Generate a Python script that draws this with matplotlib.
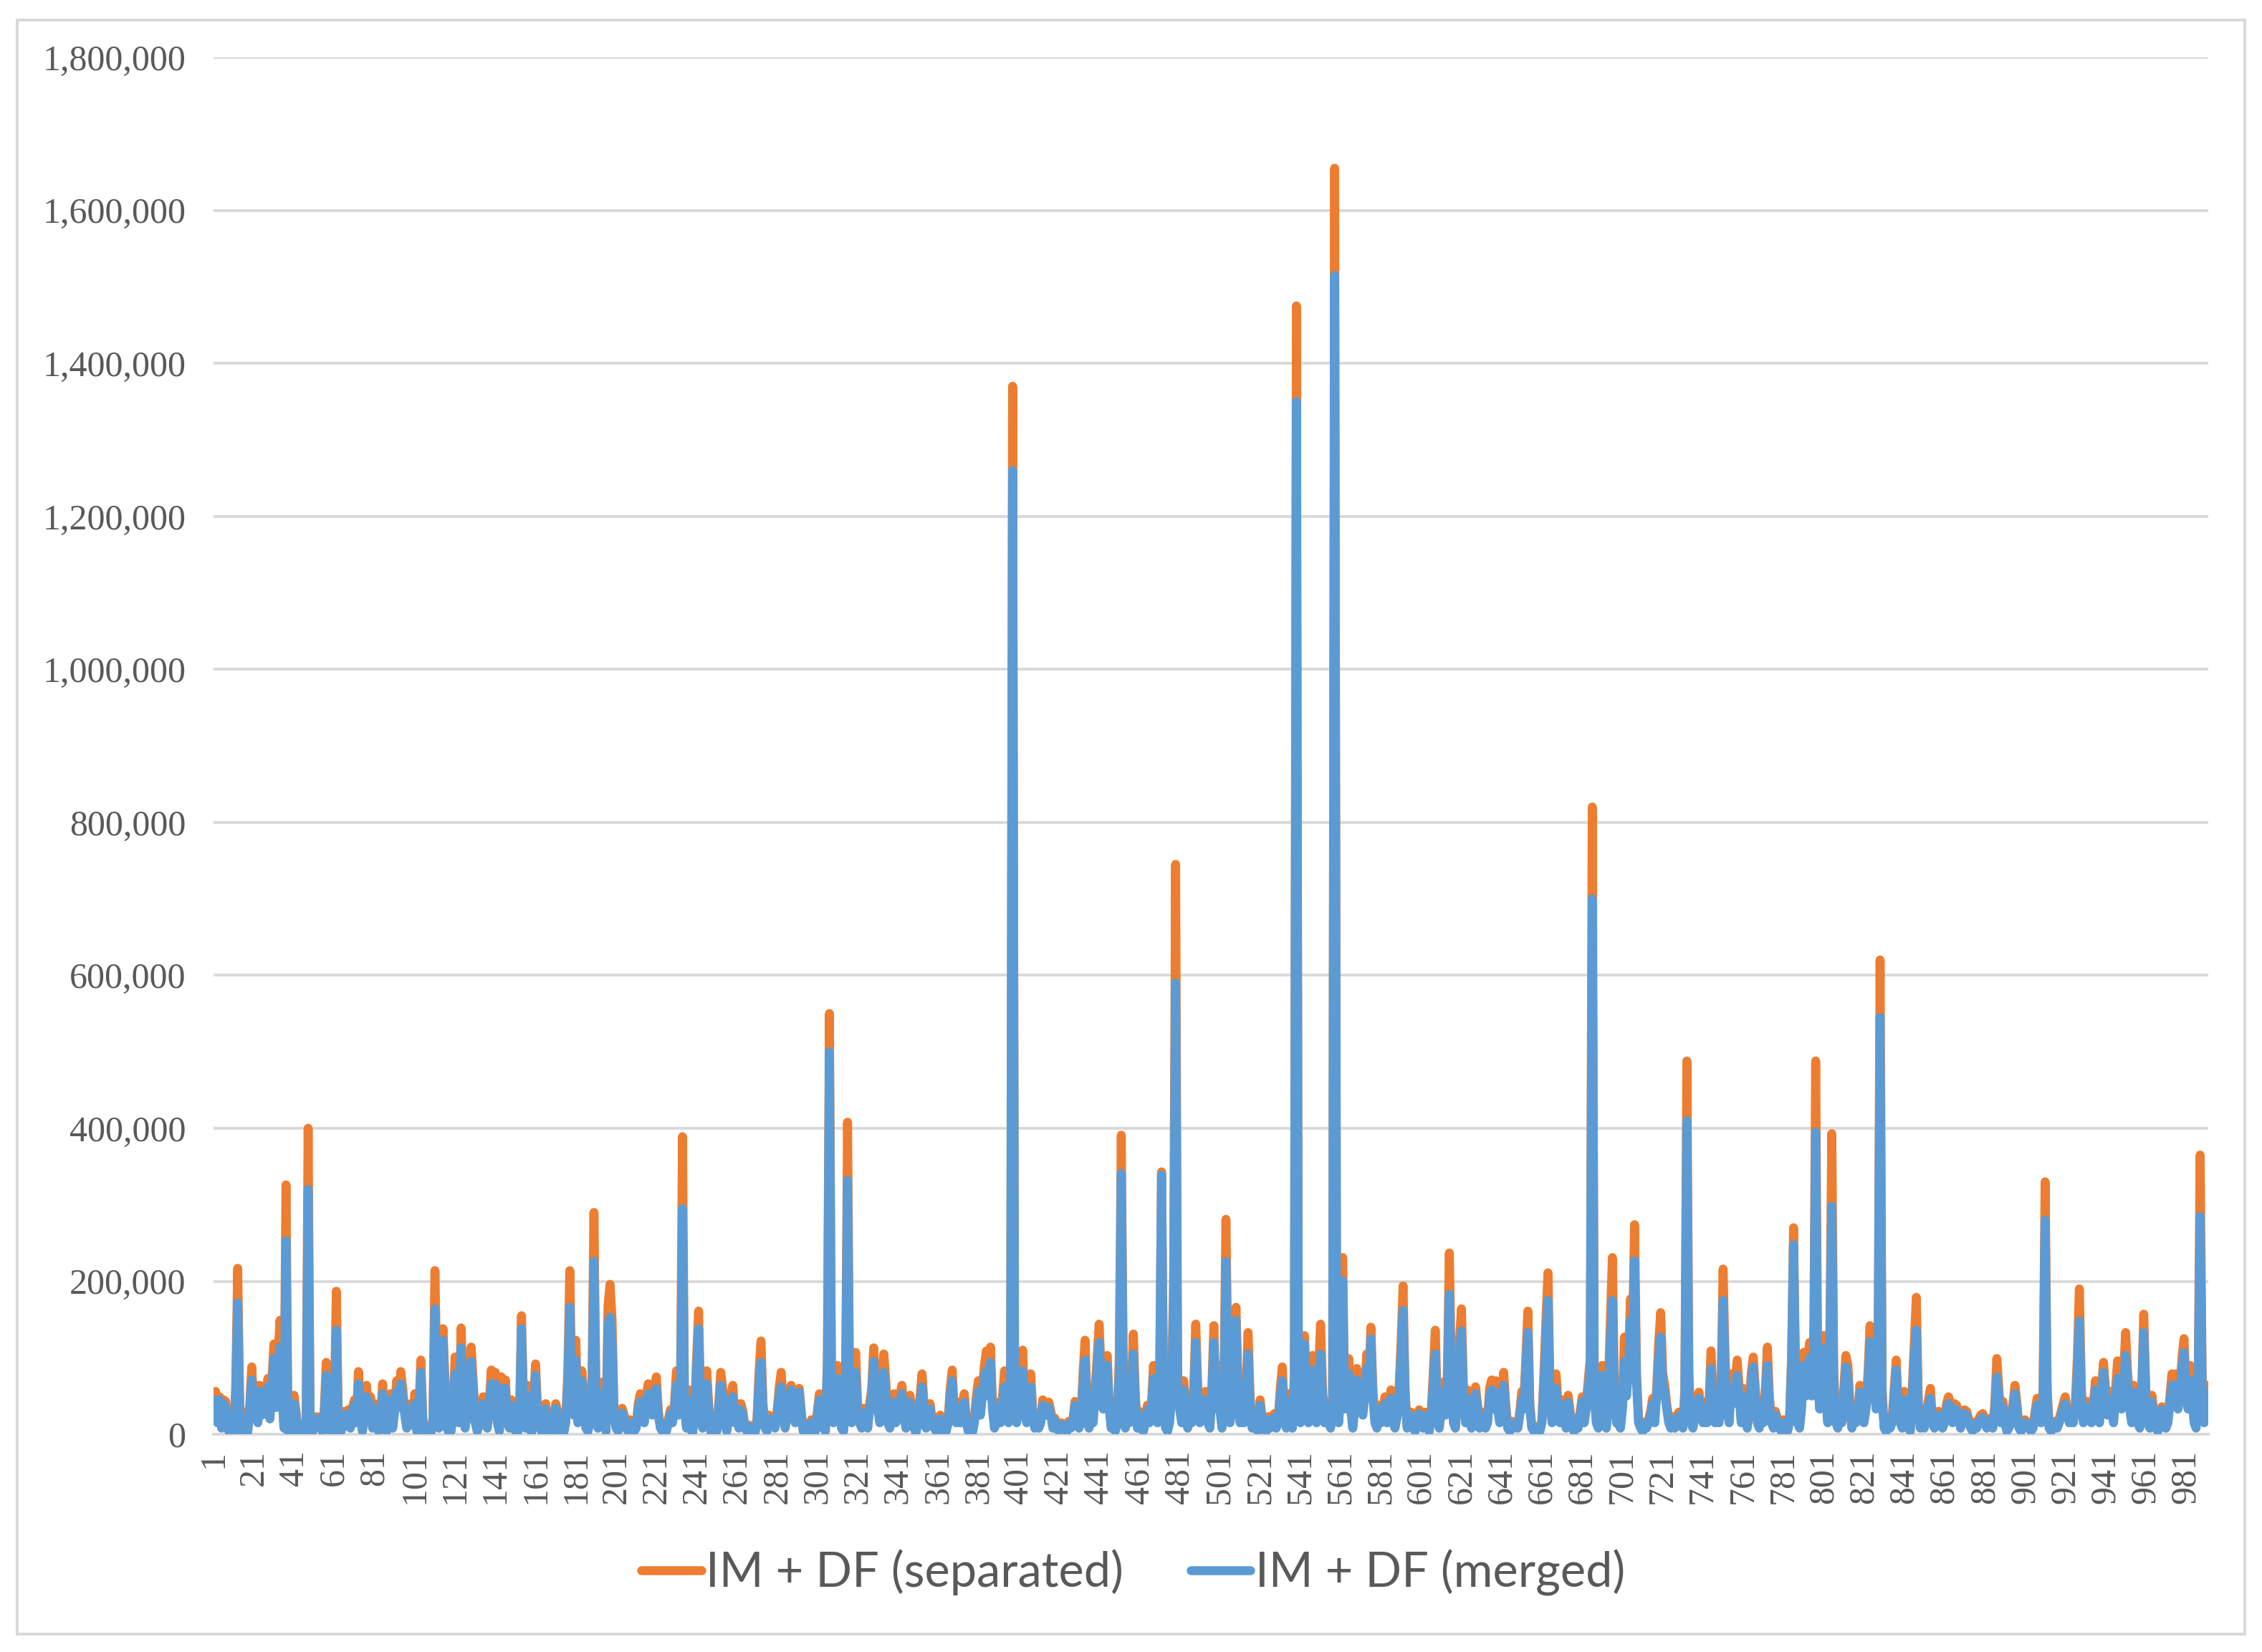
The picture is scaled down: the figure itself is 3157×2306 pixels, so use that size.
import matplotlib
matplotlib.use("Agg")
import matplotlib.pyplot as plt
from matplotlib.patches import Rectangle
from matplotlib.ticker import FuncFormatter
import numpy as np

# values, in thousands, one row per 20 points
sep_k = [
    30,56,20,49,10,45,43,10,2,5,3,60,217,40,5,8,29,4,40,88,
    30,64,20,64,30,60,35,73,25,70,118,40,100,149,60,10,326,5,0,20,
    51,30,5,2,0,3,10,400,15,3,10,23,15,23,5,30,94,40,5,2,
    30,187,20,3,10,30,20,32,10,35,45,20,82,25,5,40,64,30,49,10,
    40,25,5,20,66,30,5,25,53,10,35,70,40,82,60,30,10,20,40,15,
    53,5,30,97,20,3,0,10,3,20,214,60,10,90,138,70,10,3,5,30,
    101,40,20,139,60,10,79,25,114,70,20,5,15,30,49,20,10,40,84,30,
    81,20,5,75,40,71,20,10,45,20,5,3,20,155,40,10,64,20,3,40,
    92,30,10,5,20,40,10,3,5,20,40,30,3,5,3,20,80,214,60,30,
    123,20,40,83,50,10,5,20,60,290,50,10,30,68,20,5,168,196,150,30,
    10,5,20,34,25,10,5,19,15,5,10,40,53,45,20,50,66,40,30,60,
    75,30,10,5,12,5,20,32,20,40,83,30,60,389,40,10,58,10,3,30,
    100,161,40,10,30,83,40,5,10,21,5,40,81,60,20,5,30,50,64,20,
    40,10,40,30,10,5,12,10,5,3,20,80,122,40,10,5,25,20,22,10,
    30,60,81,40,10,30,55,64,40,20,55,60,30,5,10,14,5,19,10,5,
    30,53,40,10,5,100,550,80,20,40,90,40,10,5,60,408,60,20,40,107,
    40,20,10,34,30,10,40,60,113,60,40,20,60,105,70,20,10,40,53,20,
    30,50,64,30,10,40,51,30,10,3,20,50,79,40,10,30,40,20,10,5,
    20,25,10,3,5,20,60,84,30,20,42,20,40,53,20,5,8,3,20,50,
    70,30,60,90,109,60,114,40,10,20,42,20,50,83,40,20,60,1370,60,20,
    40,80,110,40,20,60,79,30,10,27,10,20,45,40,30,42,30,10,21,10,
    5,15,14,8,5,17,10,20,43,30,10,20,80,123,40,10,43,20,60,100,
    144,80,40,90,103,40,10,19,5,20,100,391,80,10,30,20,60,131,50,10,
    30,10,5,20,38,20,40,90,60,20,60,343,60,10,5,20,60,200,745,80,
    40,20,70,40,10,45,20,60,144,60,20,55,30,56,20,10,60,142,40,90,
    40,10,60,281,80,20,40,100,166,60,20,49,20,60,133,50,10,27,10,5,
    45,20,10,5,23,10,15,27,10,20,60,88,30,10,53,30,10,80,1475,40,
    20,60,129,60,20,60,103,40,20,80,144,60,20,42,20,10,30,1655,80,20,
    60,231,40,60,99,40,10,40,86,50,71,30,60,105,60,140,60,20,10,38,
    20,30,49,20,40,58,20,10,27,60,120,194,60,10,20,29,10,5,20,32,
    20,10,29,20,5,30,80,136,40,10,40,68,30,80,237,80,20,10,60,120,
    164,60,20,58,30,10,30,62,40,10,20,29,10,20,60,71,40,70,40,20,
    50,81,40,10,5,17,10,16,10,30,56,40,100,161,40,10,5,3,10,5,
    20,80,150,211,60,20,50,79,40,20,45,30,10,51,30,10,5,21,10,30,
    49,20,40,70,100,820,60,20,10,50,90,40,10,60,150,231,60,20,16,10,
    40,127,60,100,177,120,274,80,20,10,5,16,10,20,30,47,20,60,120,159,
    80,64,40,20,10,23,10,20,29,20,10,60,488,80,20,10,30,40,55,30,
    20,42,20,40,109,50,20,32,20,60,216,100,40,20,79,50,70,97,60,20,
    60,40,10,40,80,101,60,20,10,40,20,60,114,50,20,10,30,20,10,5,
    19,10,5,20,100,270,80,20,10,40,107,60,100,120,60,100,488,80,40,100,
    129,60,20,120,393,80,20,10,40,20,60,103,90,40,10,29,20,30,64,30,
    20,40,80,142,60,79,40,100,620,60,10,5,17,10,20,60,97,40,20,10,
    56,40,10,5,60,120,179,40,10,17,10,30,45,60,20,10,20,30,20,10,
    20,40,49,40,20,40,38,30,10,30,32,30,20,10,5,16,10,20,25,27,
    20,10,15,21,10,40,99,60,20,43,20,5,10,20,40,64,40,10,5,10,
    19,15,10,5,10,30,47,30,20,60,330,60,10,5,10,17,10,20,30,40,
    49,30,20,32,20,40,100,190,60,20,30,43,30,20,40,70,40,20,60,94,
    60,30,56,40,20,60,96,60,40,80,133,80,40,20,64,40,20,10,60,157,
    60,20,10,51,30,10,5,20,36,20,10,20,50,79,60,79,40,60,100,125,
    60,40,90,60,20,10,60,365,80,20,40,64,
]

mrg_k = [
    25,45,15,45,8,40,34,8,2,4,2,50,172,30,4,6,22,3,33,71,
    25,56,15,56,25,52,30,62,20,60,99,35,85,114,50,8,253,4,0,15,
    40,25,4,2,0,2,8,320,12,2,8,20,12,20,4,25,77,32,4,2,
    25,136,15,2,8,25,15,27,8,30,38,15,66,20,4,32,49,25,40,8,
    33,20,4,15,53,25,4,20,45,8,30,56,35,66,50,25,8,15,33,12,
    40,4,25,81,15,2,0,8,2,15,164,50,8,80,123,60,8,2,4,25,
    79,35,15,113,50,8,60,20,95,60,15,4,12,25,40,15,8,33,66,25,
    66,15,4,60,33,60,15,8,38,15,4,2,15,138,33,8,50,15,2,33,
    77,25,8,4,15,33,8,2,4,15,34,25,2,4,2,15,65,166,50,25,
    97,15,33,70,40,8,4,15,45,226,40,8,25,53,15,4,142,153,120,25,
    8,4,15,28,20,8,4,15,12,4,8,33,43,38,15,42,53,33,25,50,
    60,25,8,4,10,4,15,27,15,33,64,25,45,295,33,8,45,8,2,25,
    85,138,33,8,25,66,33,4,8,18,4,33,64,50,15,4,25,40,49,15,
    33,8,32,25,8,4,10,8,4,2,15,65,94,33,8,4,20,15,18,8,
    25,50,62,33,8,25,45,58,33,15,45,55,25,4,8,12,4,15,8,4,
    25,45,35,8,4,90,500,70,15,33,73,33,8,4,50,332,50,15,35,81,
    33,15,8,28,25,8,33,50,95,50,33,15,50,81,55,15,8,33,42,15,
    25,40,53,25,8,33,42,25,8,2,15,42,62,33,8,25,33,15,8,4,
    15,20,8,2,4,15,50,70,25,15,35,15,33,42,15,4,6,2,15,40,
    56,25,50,75,83,50,94,33,8,15,35,15,40,62,33,15,50,1260,50,15,
    33,65,83,33,15,50,62,25,8,22,8,15,38,33,25,35,25,8,18,8,
    4,12,12,6,4,14,8,15,38,25,8,15,65,97,33,8,36,15,50,85,
    120,70,33,75,90,33,8,15,4,15,80,341,65,8,25,15,50,105,40,8,
    25,8,4,15,32,15,33,73,50,15,50,339,50,8,4,15,50,170,590,65,
    33,15,58,33,8,38,15,50,120,50,15,45,25,45,15,8,50,120,33,73,
    33,8,50,226,65,15,33,85,149,50,15,40,15,50,105,40,8,22,8,4,
    38,15,8,4,19,8,12,22,8,15,50,70,25,8,43,25,8,70,1350,33,
    15,50,118,50,15,50,84,33,15,65,105,50,15,35,15,8,25,1515,70,15,
    50,201,33,50,79,33,8,33,71,40,60,25,50,86,50,125,50,15,8,32,
    15,25,40,15,33,47,15,8,22,50,100,162,50,8,15,24,8,4,15,27,
    15,8,24,15,4,25,65,105,33,8,33,55,25,65,183,65,15,8,50,100,
    135,50,15,47,25,8,25,53,33,8,15,24,8,15,50,58,33,55,33,15,
    40,64,33,8,4,14,8,13,8,25,45,33,85,133,33,8,4,2,8,4,
    15,65,125,175,50,15,40,60,33,15,38,25,8,42,25,8,4,18,8,25,
    43,15,33,60,85,700,50,15,8,40,77,33,8,50,120,175,50,15,13,8,
    33,95,50,85,149,100,227,65,15,8,4,13,8,15,25,40,15,50,100,127,
    65,55,33,15,8,19,8,15,24,15,8,50,410,65,15,8,25,33,47,25,
    15,35,15,33,86,40,15,27,15,50,175,85,33,15,60,40,60,77,50,15,
    49,33,8,33,65,88,50,15,8,33,15,50,90,40,15,8,25,15,8,4,
    15,8,4,15,90,248,70,15,8,33,90,50,85,100,50,85,395,65,33,85,
    112,50,15,100,298,65,15,8,33,15,50,88,75,33,8,24,15,25,55,25,
    15,33,65,121,50,65,33,85,545,50,8,4,14,8,15,50,84,33,15,8,
    45,33,8,4,50,100,136,33,8,14,8,25,38,47,15,8,15,25,15,8,
    15,33,40,33,15,33,32,25,8,25,27,25,15,8,4,13,8,15,20,22,
    15,8,12,18,8,33,75,50,15,36,15,4,8,15,33,53,33,8,4,8,
    15,12,8,4,8,25,38,25,15,50,280,50,8,4,8,14,8,15,25,33,
    40,25,15,27,15,33,80,148,50,15,25,36,25,15,33,58,33,15,50,81,
    50,25,45,33,15,50,73,50,33,65,103,65,33,15,55,33,15,8,50,133,
    50,15,8,42,25,8,4,15,32,15,8,15,40,64,50,65,33,50,85,107,
    50,33,71,50,15,8,50,285,65,15,33,53,
]

series_names = ["IM + DF (separated)", "IM + DF (merged)"]
y_ticks = list(range(0, 1800001, 200000))

separated = np.array(sep_k) * 1000
merged = np.array(mrg_k) * 1000
x = np.arange(1, len(separated) + 1)
x_ticks = list(range(1, len(x) + 1, 20))

orange = "#ED7D31"
blue = "#5B9BD5"
grid_c = "#D9D9D9"
text_c = "#595959"
lw = 9

fig = plt.figure(figsize=(31.57, 23.06), dpi=100)
ax = fig.add_axes([0.0944, 0.1318, 0.9762 - 0.0944, 0.9653 - 0.1318])

ax.plot(x, separated, color=orange, lw=lw, solid_joinstyle="round",
        solid_capstyle="round", label=series_names[0], zorder=3)
ax.plot(x, merged, color=blue, lw=lw, solid_joinstyle="round",
        solid_capstyle="round", label=series_names[1], zorder=4)

ax.set_xlim(1, len(x))
ax.set_ylim(0, 1800000)
ax.set_yticks(y_ticks)
ax.yaxis.set_major_formatter(FuncFormatter(lambda v, p: "{:,}".format(int(v))))
ax.set_xticks(x_ticks)
ax.set_xticklabels([str(t) for t in x_ticks], rotation=90)

ax.grid(axis="y", color=grid_c, lw=2.8, zorder=0)
ax.set_axisbelow(True)
for s in ["top", "right", "left"]:
    ax.spines[s].set_visible(False)
ax.spines["bottom"].set_color(grid_c)
ax.spines["bottom"].set_linewidth(2.8)
ax.tick_params(axis="both", length=0, colors=text_c, labelsize=36)
ax.tick_params(axis="y", pad=28)
ax.tick_params(axis="x", pad=16)
for lab in ax.get_xticklabels() + ax.get_yticklabels():
    lab.set_family("Liberation Serif")

leg = fig.legend(loc="center", bbox_to_anchor=(0.501, 0.048), ncol=2, frameon=False,
                 handlelength=1.25, handletextpad=0.1, columnspacing=1.4,
                 prop={"family": "Lato", "size": 48})
for t in leg.get_texts():
    t.set_color(text_c)
for h in leg.get_lines():
    h.set_linewidth(lw)
    h.set_solid_capstyle("round")

# grey frame around the whole chart
fig.patches.append(Rectangle((0.0076, 0.0108), 0.9848, 0.9771, transform=fig.transFigure,
                             fill=False, edgecolor=grid_c, lw=2.9))

fig.savefig("out.png", dpi=100)
